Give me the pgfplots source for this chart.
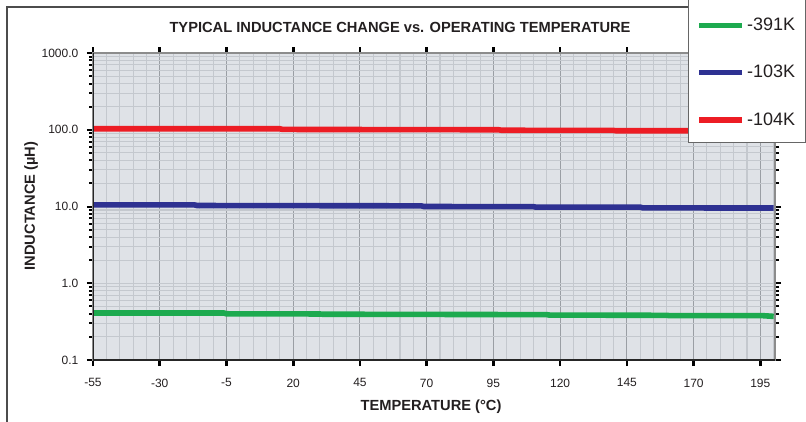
\documentclass[border=0pt]{standalone}
\usepackage{pgfplots}
\pgfplotsset{compat=1.18}
\usepackage{fontspec}
\setmainfont{Liberation Sans}
\definecolor{cgreen}{HTML}{1DAA4F}
\definecolor{cblue}{HTML}{2E3192}
\definecolor{cred}{HTML}{ED1C24}
\definecolor{bgc}{HTML}{DFE2E7}
\definecolor{mingrid}{HTML}{C4C8CE}
\definecolor{majgrid}{HTML}{9A9EA4}
\definecolor{txt}{HTML}{231F20}
\begin{document}
\begin{tikzpicture}[x=0.75pt,y=0.75pt]
\path[use as bounding box] (0,0) rectangle (806,421);
\draw[line width=1pt, black!70] (7,-4) -- (7,414) -- (700,414);
\begin{axis}[
  at={(69.75pt,45.75pt)}, anchor=south west,
  width=511.5pt, height=230.25pt, scale only axis,
  axis background/.style={fill=bgc},
  xmin=-55, xmax=200.5, ymin=0.1, ymax=1000, ymode=log,
  xtick={-55,-30,...,195}, minor xtick={-50,-45,...,200},
  ytick={0.1,1,10,100,1000}, yticklabels={0.1,1.0,10.0,100.0,1000.0},
  /pgf/number format/assume math mode=true,
  grid=both,
  major x grid style={majgrid, line width=0.8pt},
  major y grid style={mingrid, line width=0.8pt},
  minor grid style={mingrid, line width=0.8pt},
  axis line style={draw=black!45, line width=1pt},
  tick align=outside,
  major tick length=4.5pt, minor tick length=3pt,
  x tick style={black, line width=2pt},
  minor x tick style={draw=none},
  y tick style={black, line width=1.5pt},
  ticklabel style={font=\fontsize{9}{10}\selectfont, text=txt},
  xticklabel style={yshift=-6pt},
  yticklabel style={xshift=-3pt},
  legend style={at={(axis description cs:0.8724,0.7068)}, anchor=south west,
    draw=black!60, fill=white, line width=0.8pt, font=\fontsize{13.5}{15}\selectfont,
    text=txt, row sep=20.5pt, inner xsep=6pt, inner ysep=9.5pt},
  legend cell align=left,
  legend image code/.code={\draw[#1, line width=4pt] (0pt,0pt) -- (32pt,0pt);},
]
\addlegendimage{empty legend}
\addlegendentry{}
\addplot[cgreen, line width=4.2pt] coordinates {(-55,0.41) (-6,0.41) (-5,0.40) (30,0.398) (31,0.395) (115,0.39) (116,0.385) (160,0.382) (161,0.378) (196,0.378) (200,0.37)};
\addlegendentry{-391K}
\addplot[cblue, line width=4.2pt] coordinates {(-55,10.5) (-17,10.5) (-16,10.3) (68,10.2) (69,10.0) (110,9.95) (111,9.8) (150,9.8) (151,9.6) (200,9.55)};
\addlegendentry{-103K}
\addplot[cred, line width=4.2pt] coordinates {(-55,103) (15,103) (16,101) (97,100) (98,98.5) (140,98) (141,97) (200,97)};
\addlegendentry{-104K}
\draw[black!85, line width=2.2pt] (rel axis cs:0,1) -- (rel axis cs:0,0) -- (rel axis cs:1,0);
\end{axis}
\node[font=\bfseries\fontsize{11}{13}\selectfont, text=txt] at (400,394) {TYPICAL INDUCTANCE CHANGE vs. OPERATING TEMPERATURE};
\node[font=\bfseries\fontsize{11}{13}\selectfont, text=txt] at (431,14) {TEMPERATURE (°C)};
\node[font=\bfseries\fontsize{11}{13}\selectfont, text=txt, rotate=90] at (31,215) {INDUCTANCE (µH)};
\end{tikzpicture}
\end{document}
